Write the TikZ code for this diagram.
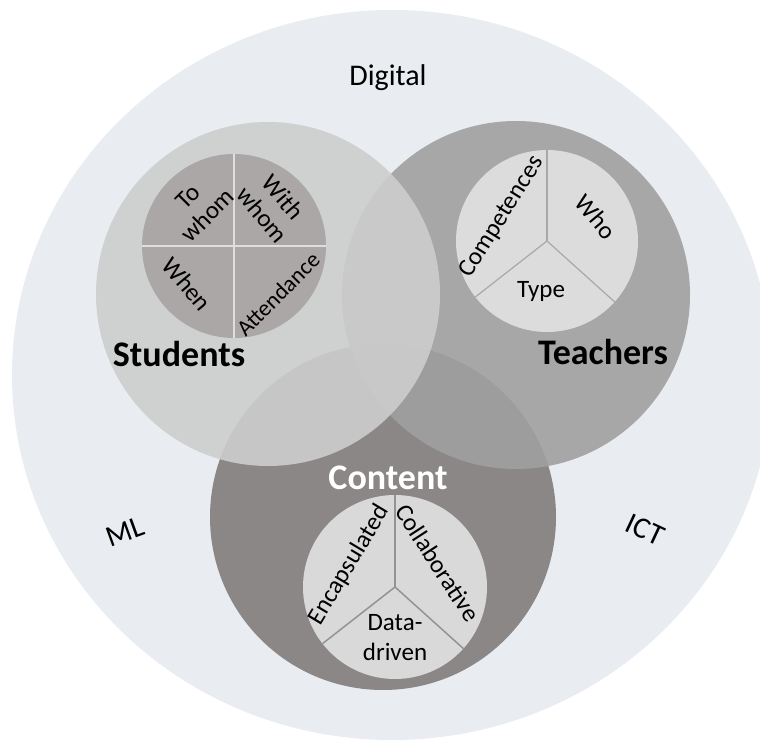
\documentclass[tikz,border=0pt]{standalone}
\usepackage{fontspec}
\setmainfont{Carlito}
\usetikzlibrary{positioning}

\definecolor{digitalbg}{HTML}{E9ECF1}
\definecolor{studcol}{HTML}{CDCDCD}
\definecolor{teachcol}{HTML}{A0A0A0}
\definecolor{contcol}{HTML}{8B8787}
\definecolor{studpie}{HTML}{ABA7A7}
\definecolor{teachpie}{HTML}{DCDCDC}
\definecolor{contpie}{HTML}{D9D9D9}

\begin{document}
\begin{tikzpicture}[x=1pt,y=1pt,
  venn/.style={circle, inner sep=0pt, fill opacity=0.9},
  studline/.style={draw={rgb,255:red,222;green,222;blue,222}, line width=2.5pt},
  teachline/.style={draw={rgb,255:red,168;green,168;blue,168}, line width=1.2pt},
  contline/.style={draw={rgb,255:red,147;green,147;blue,147}, line width=1.5pt},
  big/.style={font=\fontsize{36}{40}\selectfont\bfseries},
  outer/.style={font=\fontsize{30}{34}\selectfont},
  slice/.style={font=\fontsize{25}{27}\selectfont, align=center, inner sep=0pt}]
\useasboundingbox (0,0) rectangle (760,742);

% the digital background
\fill[digitalbg] (392,367) ellipse [x radius=380, y radius=365];

% define the three sets
\node[venn, fill=contcol, fill opacity=1, minimum size=346] (content)  at (383,225) {};
\node[venn, fill=teachcol, minimum size=348]               (teachers) at (516,447) {};
\node[venn, fill=studcol, minimum size=344]                (students) at (268,448) {};

% the small pies
\coordinate (spie) at (234,496);
\coordinate (tpie) at (547,501);
\coordinate (cpie) at (395,155);

\fill[studpie] (spie) circle (92);
\draw[studline] (spie) -- ++(0:92);
\draw[studline] (spie) -- ++(90:92);
\draw[studline] (spie) -- ++(180:92);
\draw[studline] (spie) -- ++(270:92);

\fill[teachpie] (tpie) circle (91);
\draw[teachline] (tpie) -- ++(90:91);
\draw[teachline] (tpie) -- ++(218:91);
\draw[teachline] (tpie) -- ++(318:91);

\fill[contpie] (cpie) circle (92);
\draw[contline] (cpie) -- ++(90:92);
\draw[contline] (cpie) -- ++(218:92);
\draw[contline] (cpie) -- ++(318:92);

% labels of the sets
\node[outer]             (digital)    at (388,664) {Digital};
\node[outer, rotate=20]  (ml)         at (125,210) {ML};
\node[outer, rotate=-25] (ict)        at (645,212) {ICT};
\node[big]               (studlabel)  at (179,388) {Students};
\node[big]               (teachlabel) at (603,390) {Teachers};
\node[big, text=white]   (contlabel)  at (388,264) {Content};

% labels of the slices
\node[slice, rotate=45]  (towhom)     at (198,536) {To\\whom};
\node[slice, rotate=-50] (withwhom)   at (273,536) {With\\whom};
\node[slice, rotate=-50] (when)       at (187,458) {When};
\node[slice, rotate=45, font=\fontsize{23}{27}\selectfont] (attendance) at (278,448) {Attendance};

\node[slice, rotate=58]  (competences) at (502,525) {Competences};
\node[slice, rotate=-50] (who)         at (596,525) {Who};
\node[slice]             (type)        at (541,451) {Type};

\node[slice, rotate=59]  (encaps)     at (349,177) {Encapsulated};
\node[slice, rotate=-57] (collab)     at (438,179) {Collaborative};
\node[slice, font=\fontsize{25}{30}\selectfont] (datadriven) at (395,104) {Data-\\driven};

\end{tikzpicture}
\end{document}
